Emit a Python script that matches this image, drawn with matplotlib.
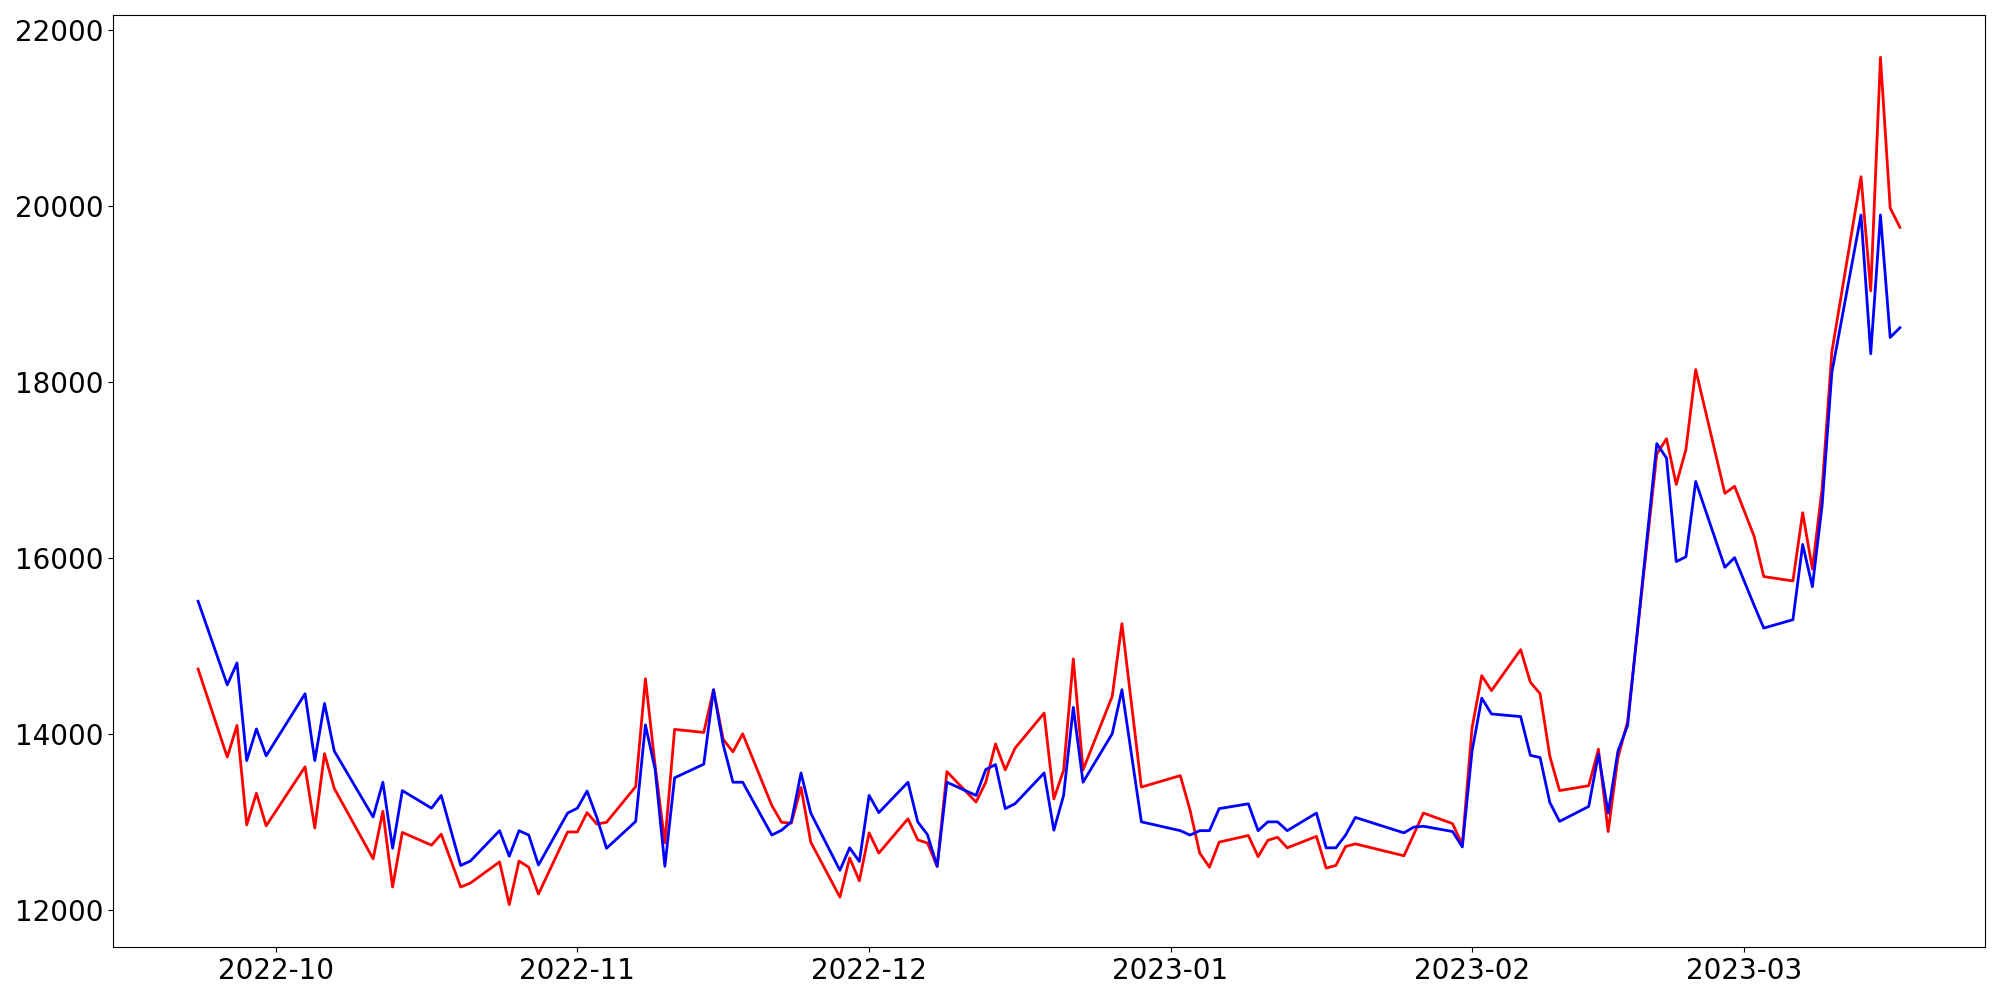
import matplotlib
matplotlib.use("Agg")
import matplotlib.pyplot as plt
import pandas as pd

dates = [
    "2022-09-23", "2022-09-26", "2022-09-27", "2022-09-28", "2022-09-29", "2022-09-30",
    "2022-10-04", "2022-10-05", "2022-10-06", "2022-10-07", "2022-10-11", "2022-10-12",
    "2022-10-13", "2022-10-14", "2022-10-17", "2022-10-18", "2022-10-20", "2022-10-21",
    "2022-10-24", "2022-10-25", "2022-10-26", "2022-10-27", "2022-10-28", "2022-10-31",
    "2022-11-01", "2022-11-02", "2022-11-03", "2022-11-04", "2022-11-07", "2022-11-08",
    "2022-11-09", "2022-11-10", "2022-11-11", "2022-11-14", "2022-11-15", "2022-11-16",
    "2022-11-17", "2022-11-18", "2022-11-21", "2022-11-22", "2022-11-23", "2022-11-24",
    "2022-11-25", "2022-11-28", "2022-11-29", "2022-11-30", "2022-12-01", "2022-12-02",
    "2022-12-05", "2022-12-06", "2022-12-07", "2022-12-08", "2022-12-09", "2022-12-12",
    "2022-12-13", "2022-12-14", "2022-12-15", "2022-12-16", "2022-12-19", "2022-12-20",
    "2022-12-21", "2022-12-22", "2022-12-23", "2022-12-26", "2022-12-27", "2022-12-29",
    "2023-01-02", "2023-01-03", "2023-01-04", "2023-01-05", "2023-01-06", "2023-01-09",
    "2023-01-10", "2023-01-11", "2023-01-12", "2023-01-13", "2023-01-16", "2023-01-17",
    "2023-01-18", "2023-01-19", "2023-01-20", "2023-01-25", "2023-01-26", "2023-01-27",
    "2023-01-30", "2023-01-31", "2023-02-01", "2023-02-02", "2023-02-03", "2023-02-06",
    "2023-02-07", "2023-02-08", "2023-02-09", "2023-02-10", "2023-02-13", "2023-02-14",
    "2023-02-15", "2023-02-16", "2023-02-17", "2023-02-20", "2023-02-21", "2023-02-22",
    "2023-02-23", "2023-02-24", "2023-02-27", "2023-02-28", "2023-03-02", "2023-03-03",
    "2023-03-06", "2023-03-07", "2023-03-08", "2023-03-09", "2023-03-10", "2023-03-13",
    "2023-03-14", "2023-03-15", "2023-03-16", "2023-03-17",
]

blue_values = [
    15510, 14560, 14810, 13700, 14060, 13755,
    14460, 13700, 14350, 13810, 13060, 13455,
    12705, 13360, 13160, 13305, 12510, 12560,
    12905, 12615, 12905, 12855, 12515, 13105,
    13160, 13355, 13055, 12705, 13010, 14105,
    13600, 12500, 13505, 13660, 14505, 13880,
    13455, 13455, 12855, 12910, 13005, 13560,
    13105, 12455, 12710, 12555, 13305, 13110,
    13455, 13005, 12860, 12500, 13455, 13305,
    13600, 13655, 13155, 13210, 13560, 12910,
    13305, 14305, 13455, 14005, 14505, 13005,
    12905, 12855, 12905, 12905, 13155, 13210,
    12905, 13005, 13005, 12905, 13105, 12710,
    12710, 12855, 13055, 12880, 12945, 12955,
    12895, 12720, 13805, 14410, 14230, 14200,
    13760, 13735, 13225, 13010, 13180, 13775,
    13105, 13805, 14100, 17300, 17135, 15960,
    16015, 16870, 15895, 16005, 15465, 15205,
    15300, 16155, 15675, 16600, 18105, 19895,
    18320, 19895, 18505, 18615,
]

red_values = [
    14740, 13740, 14100, 12970, 13330, 12960,
    13630, 12935, 13780, 13385, 12585, 13125,
    12265, 12885, 12740, 12865, 12265, 12310,
    12550, 12065, 12560, 12490, 12185, 12890,
    12890, 13110, 12980, 13000, 13405, 14630,
    13640, 12765, 14055, 14020, 14505, 13940,
    13800, 14005, 13190, 13000, 12990, 13395,
    12775, 12150, 12595, 12335, 12880, 12650,
    13040, 12800, 12765, 12500, 13575, 13230,
    13455, 13890, 13595, 13840, 14240, 13265,
    13590, 14855, 13595, 14430, 15255, 13400,
    13530, 13140, 12650, 12490, 12775, 12850,
    12610, 12795, 12830, 12710, 12840, 12480,
    12510, 12725, 12755, 12620, 12860, 13105,
    12985, 12745, 14070, 14665, 14495, 14960,
    14590, 14460, 13750, 13360, 13415, 13830,
    12895, 13730, 14145, 17180, 17355, 16835,
    17235, 18140, 16735, 16815, 16250, 15790,
    15740, 16515, 15875, 16790, 18340, 20330,
    19035, 21685, 19975, 19755,
]

x = pd.to_datetime(dates)

fig = plt.figure(figsize=(20, 10), dpi=100)
ax = fig.add_axes([0.0565, 0.053, 0.936, 0.932])
ax.plot(x, red_values, color="red", linewidth=2)
ax.plot(x, blue_values, color="blue", linewidth=2)
ax.tick_params(axis="both", labelsize=20)
fig.savefig("out.png", dpi=100)
